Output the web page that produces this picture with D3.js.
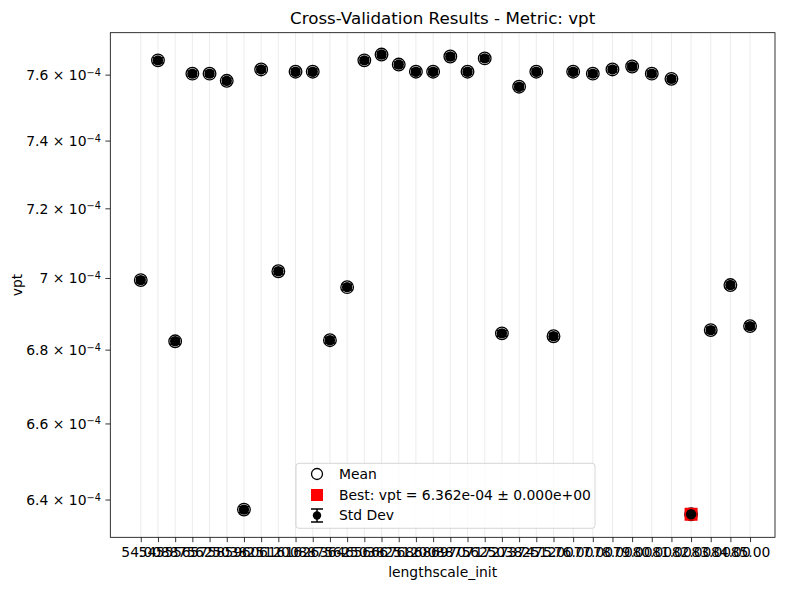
<!DOCTYPE html>
<html>
<head>
<meta charset="utf-8">
<script src="https://cdn.jsdelivr.net/npm/d3@7"></script>
<style>
body{margin:0;background:#fff}
text{font-family:"DejaVu Sans",sans-serif;fill:#000}
</style>
</head>
<body>
<script>
// lengthscale_init grid, labels as shown on the axis
const xValues=[54,54.875,55.75,56.625,57.5,58.375,59.25,60.125,61,61.875,62.75,63.625,64.5,65.375,66.25,67.125,68,68.875,69.75,70.625,71.5,72.375,73.25,74.125,75,76,77,78,79,80,81,82,83,84,85]
const xLabels=['54.00','54.88','55.75','56.62','57.50','58.38','59.25','60.12','61.00','61.88','62.75','63.62','64.50','65.38','66.25','67.12','68.00','68.88','69.75','70.62','71.50','72.38','73.25','74.12','75.00','76.00','77.00','78.00','79.00','80.00','81.00','82.00','83.00','84.00','85.00']
// mean vpt (x1e-4)
const meanVpt=[6.994,7.644,6.823,7.603,7.603,7.581,6.374,7.616,7.019,7.609,7.609,6.826,6.974,7.644,7.662,7.631,7.609,7.609,7.656,7.609,7.650,6.845,7.563,7.609,6.837,7.609,7.603,7.616,7.625,7.603,7.587,6.362,6.854,6.980,6.865]
const stdVpt=[0.008,0.008,0.008,0.008,0.008,0.008,0.008,0.008,0.008,0.008,0.008,0.008,0.008,0.008,0.008,0.008,0.008,0.008,0.008,0.008,0.008,0.008,0.008,0.008,0.008,0.008,0.008,0.008,0.008,0.008,0.008,0,0.008,0.008,0.008]
const yTicks=[6.4,6.6,6.8,7.0,7.2,7.4,7.6]
const bestIndex=31

const width=790
const height=590
const pLeft=110.3, pRight=775, pTop=32.7, pBottom=537.3

const data=xValues.map((x,i)=>({x:x,label:xLabels[i],mean:meanVpt[i]*1e-4,std:stdVpt[i]*1e-4}))

const svg=d3.select('body').append('svg').attr('width',width).attr('height',height)

const xScale=d3.scaleLinear().domain([52.45,86.27]).range([pLeft,pRight])
const yScale=d3.scaleLog().domain([6.303e-4,7.73e-4]).range([pBottom,pTop])

// vertical grid
svg.append('g').selectAll('line').data(data).enter().append('line')
   .attr('x1',d=>xScale(d.x)).attr('x2',d=>xScale(d.x))
   .attr('y1',pTop).attr('y2',pBottom)
   .attr('stroke','#b0b0b0').attr('stroke-opacity',0.3).attr('stroke-width',0.8)

// x axis
const xAxis=d3.axisBottom(xScale).tickValues(xValues).tickFormat((d,i)=>xLabels[i]).tickSizeOuter(0).tickSize(4.9).tickPadding(4.9)
const gx=svg.append('g').attr('transform',`translate(0,${pBottom})`).call(xAxis)
gx.selectAll('text').style('font-size','13.9px').style('font-family','DejaVu Sans').attr('fill','#000')
gx.selectAll('line').attr('stroke','#000').attr('stroke-width',0.8)
gx.select('.domain').remove()

// y axis with scientific labels
const yAxis=d3.axisLeft(yScale).tickValues(yTicks.map(v=>v*1e-4)).tickFormat('').tickSizeOuter(0).tickSize(4.9)
const gy=svg.append('g').attr('transform',`translate(${pLeft},0)`).call(yAxis)
gy.selectAll('line').attr('stroke','#000').attr('stroke-width',0.8)
gy.select('.domain').remove()
gy.selectAll('.tick').each(function(d,i){
  const t=d3.select(this).append('text').attr('x',-9.5).attr('dy','0.35em').attr('text-anchor','end')
     .style('font-size','13.9px')
  const m=yTicks[i]
  t.append('tspan').text((m===7.0?'7':m.toFixed(1))+' \u00d7 10')
  t.append('tspan').attr('dy','-0.45em').style('font-size','9.7px').text('\u22124')
})

// frame
svg.append('rect').attr('x',pLeft).attr('y',pTop).attr('width',pRight-pLeft).attr('height',pBottom-pTop)
   .attr('fill','none').attr('stroke','#000').attr('stroke-width',0.8)

// mean markers
svg.append('g').selectAll('circle').data(data).enter().append('circle')
   .attr('cx',d=>xScale(d.x)).attr('cy',d=>yScale(d.mean)).attr('r',6.3)
   .attr('fill','#fff').attr('stroke','#000').attr('stroke-width',1.3)

// best
const best=data[bestIndex]
svg.append('rect').attr('x',xScale(best.x)-6.5).attr('y',yScale(best.mean)-6.5).attr('width',13).attr('height',13)
   .attr('fill','red')

// error bars
const eb=svg.append('g').selectAll('g').data(data).enter().append('g')
eb.append('line').attr('x1',d=>xScale(d.x)).attr('x2',d=>xScale(d.x))
   .attr('y1',d=>yScale(d.mean-d.std)).attr('y2',d=>yScale(d.mean+d.std)).attr('stroke','#000').attr('stroke-width',1.5)
eb.append('line').attr('x1',d=>xScale(d.x)-5).attr('x2',d=>xScale(d.x)+5)
   .attr('y1',d=>yScale(d.mean-d.std)).attr('y2',d=>yScale(d.mean-d.std)).attr('stroke','#000').attr('stroke-width',1.5)
eb.append('line').attr('x1',d=>xScale(d.x)-5).attr('x2',d=>xScale(d.x)+5)
   .attr('y1',d=>yScale(d.mean+d.std)).attr('y2',d=>yScale(d.mean+d.std)).attr('stroke','#000').attr('stroke-width',1.5)
eb.append('circle').attr('cx',d=>xScale(d.x)).attr('cy',d=>yScale(d.mean)).attr('r',5.2).attr('fill','#000')

// titles
const cx=(pLeft+pRight)/2
svg.append('text').attr('x',cx).attr('y',24).attr('text-anchor','middle').style('font-size','16.7px')
   .text('Cross-Validation Results - Metric: vpt')
svg.append('text').attr('x',cx).attr('y',577).attr('text-anchor','middle').style('font-size','13.9px')
   .text('lengthscale_init')
svg.append('text').attr('transform',`translate(22,${(pTop+pBottom)/2}) rotate(-90)`).attr('text-anchor','middle')
   .style('font-size','13.9px').text('vpt')

// legend
const lg=svg.append('g')
lg.append('rect').attr('x',296).attr('y',463.3).attr('width',299).attr('height',65).attr('rx',3)
   .attr('fill','#fff').attr('fill-opacity',0.8).attr('stroke','#ccc').attr('stroke-width',0.8)
lg.append('circle').attr('cx',317).attr('cy',474).attr('r',5.5).attr('fill','none').attr('stroke','#000').attr('stroke-width',1.3)
lg.append('rect').attr('x',311).attr('y',489).attr('width',12).attr('height',12).attr('fill','red')
lg.append('line').attr('x1',317).attr('x2',317).attr('y1',509).attr('y2',522).attr('stroke','#000').attr('stroke-width',1.5)
lg.append('line').attr('x1',311).attr('x2',323).attr('y1',509).attr('y2',509).attr('stroke','#000').attr('stroke-width',1.5)
lg.append('line').attr('x1',311).attr('x2',323).attr('y1',522).attr('y2',522).attr('stroke','#000').attr('stroke-width',1.5)
lg.append('circle').attr('cx',317).attr('cy',515.5).attr('r',4.2).attr('fill','#000')
const legendText=['Mean','Best: vpt = 6.362e-04 \u00b1 0.000e+00','Std Dev']
lg.selectAll('text').data(legendText).enter().append('text')
   .attr('x',339).attr('y',(d,i)=>474+i*20.8).attr('dy','0.35em').style('font-size','13.9px').text(d=>d)
</script>
</body>
</html>
